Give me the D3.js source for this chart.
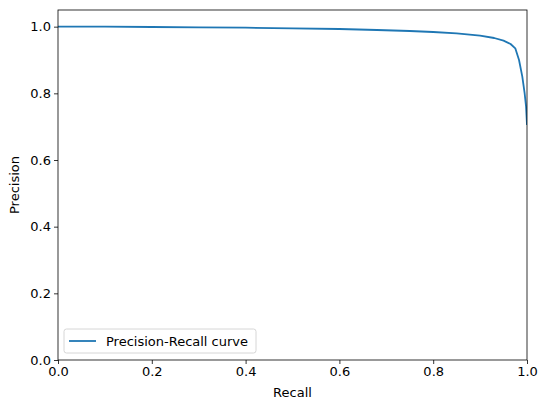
<!DOCTYPE html>
<html>
<head>
  <meta charset="utf-8">
  <style>
    body { margin: 0; background: #fff; }
    text { font-family: "DejaVu Sans", sans-serif; fill: #000; }
    .tick text { font-size: 13px; }
    .axis-label { font-size: 13px; }
    .legend text { font-size: 13px; }
  </style>
</head>
<body>
  <svg width="538" height="401"></svg>
  <script src="https://d3js.org/d3.v7.min.js"></script>
  <script>
    // values
    const recall = [0, 0.1, 0.2, 0.3, 0.4, 0.5, 0.6, 0.68, 0.75, 0.8, 0.85, 0.9, 0.93, 0.95, 0.965, 0.975, 0.983, 0.99, 0.995, 0.998, 1.0];
    const precision = [1.0, 1.0, 0.999, 0.998, 0.997, 0.995, 0.993, 0.990, 0.987, 0.984, 0.980, 0.973, 0.966, 0.958, 0.948, 0.935, 0.90, 0.85, 0.80, 0.76, 0.705];
    const xTicks = [0, 0.2, 0.4, 0.6, 0.8, 1.0];
    const yTicks = [0, 0.2, 0.4, 0.6, 0.8, 1.0];
    const seriesName = "Precision-Recall curve";

    const svg = d3.select("svg");
    const margin = {top: 10, right: 11, bottom: 41, left: 58};
    const width = 538 - margin.left - margin.right;
    const height = 401 - margin.top - margin.bottom;

    const x = d3.scaleLinear().domain([0, 1]).range([0, width]);
    const y = d3.scaleLinear().domain([0, 1.05]).range([height, 0]);

    const g = svg.append("g")
      .attr("transform", `translate(${margin.left},${margin.top})`);

    const points = recall.map((r, i) => [r, precision[i]]);

    g.append("defs").append("clipPath").attr("id", "clip")
      .append("rect").attr("width", width).attr("height", height);

    g.append("path")
      .datum(points)
      .attr("clip-path", "url(#clip)")
      .attr("fill", "none")
      .attr("stroke", "#1f77b4")
      .attr("stroke-width", 1.8)
      .attr("stroke-linejoin", "round")
      .attr("d", d3.line().x(d => x(d[0])).y(d => y(d[1])));

    const xAxis = g.append("g")
      .attr("transform", `translate(0,${height})`)
      .call(d3.axisBottom(x).tickValues(xTicks).tickFormat(d3.format(".1f")).tickSizeOuter(0).tickSize(4).tickPadding(3));
    const yAxis = g.append("g")
      .call(d3.axisLeft(y).tickValues(yTicks).tickFormat(d3.format(".1f")).tickSizeOuter(0).tickSize(4).tickPadding(3));
    [xAxis, yAxis].forEach(a => {
      a.select(".domain").remove();
      a.selectAll(".tick line").attr("stroke", "#000").attr("stroke-width", 0.8);
    });

    // frame
    g.append("rect")
      .attr("width", width).attr("height", height)
      .attr("fill", "none").attr("stroke", "#000").attr("stroke-width", 0.8);

    svg.append("text").attr("class", "axis-label")
      .attr("x", margin.left + width / 2).attr("y", 397)
      .attr("text-anchor", "middle").text("Recall");
    svg.append("text").attr("class", "axis-label")
      .attr("transform", `translate(19,${margin.top + height / 2}) rotate(-90)`)
      .attr("text-anchor", "middle").text("Precision");

    // legend
    const legend = g.append("g").attr("class", "legend")
      .attr("transform", `translate(6,${height - 31})`);
    legend.append("rect")
      .attr("width", 192).attr("height", 24).attr("rx", 2.5)
      .attr("fill", "#fff").attr("fill-opacity", 0.8)
      .attr("stroke", "#ccc").attr("stroke-width", 0.8);
    legend.append("line")
      .attr("x1", 5).attr("x2", 32).attr("y1", 12).attr("y2", 12)
      .attr("stroke", "#1f77b4").attr("stroke-width", 1.8);
    legend.append("text")
      .attr("x", 42).attr("y", 16.5).text(seriesName);
  </script>
</body>
</html>
